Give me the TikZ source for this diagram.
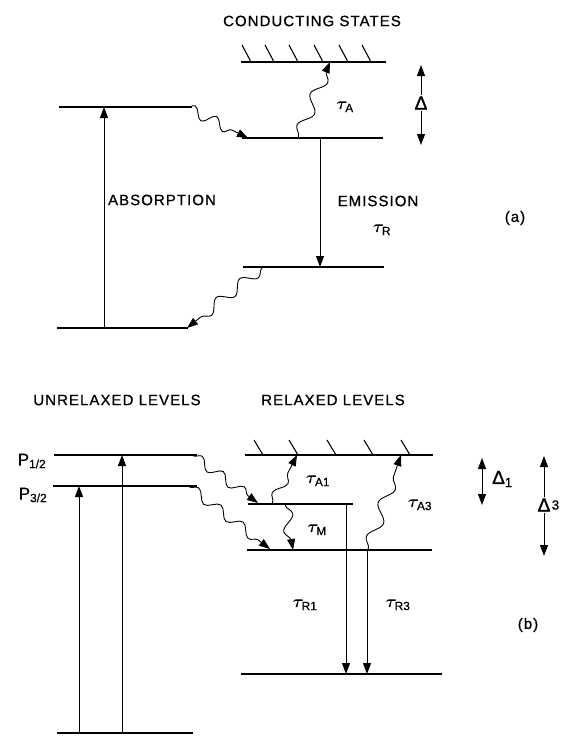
\documentclass[tikz,border=0pt]{standalone}
\usepackage{amsmath,bm}
\usepackage{fontspec}
\setmainfont{Liberation Sans}[FakeBold=0.6]
\setsansfont{Liberation Sans}[FakeBold=0.6]
\newfontfamily\lbl[LetterSpace=7,FakeBold=0.8]{Liberation Sans}
\newfontfamily\dfont[FakeBold=1.2]{Liberation Sans}
\usetikzlibrary{arrows.meta,decorations.pathmorphing}
\tikzset{
  tip/.tip={Triangle[length=11pt,width=8pt]},
  level/.style={line width=2.2pt},
  hatch/.style={line width=1.1pt},
  trans/.style={line width=1pt,-tip},
  wave/.style 2 args={line width=0.9pt,-tip,decorate,
     decoration={snake,amplitude=#1,segment length=#2,pre length=1pt,post length=9pt}},
  lab/.style={font=\lbl\fontsize{15}{18}\selectfont,inner sep=0pt},
  tau/.style={font=\fontsize{17}{20}\selectfont,inner sep=0pt},
  del/.style={font=\dfont\fontsize{19}{22}\selectfont,inner sep=1pt},
}
\newcommand{\tsub}[1]{$\bm{\tau}_{\textsf{#1}}$}
\begin{document}
\begin{tikzpicture}[x=1pt,y=-1pt]
\useasboundingbox (0,0) rectangle (560,736);
% ---------------- (a) ----------------
\node[lab] (cst) at (312,21) {CONDUCTING STATES};
\coordinate (csL) at (241,62); \coordinate (csR) at (386,62);
\draw[level] (csL) -- (csR);
\foreach \b [count=\i] in {251,274,298,323,348,371}{
  \coordinate (ha\i) at (\b-9,45); \coordinate (hb\i) at (\b,62);
  \draw[hatch] (ha\i) -- (hb\i);}
\coordinate (upL) at (59,107); \coordinate (upR) at (192,107);
\draw[level] (upL) -- (upR);
\coordinate (midL) at (242,138); \coordinate (midR) at (383,138);
\draw[level] (midL) -- (midR);
\coordinate (lowL) at (243,267); \coordinate (lowR) at (384,267);
\draw[level] (lowL) -- (lowR);
\coordinate (gndL) at (57,328); \coordinate (gndR) at (188,328);
\draw[level] (gndL) -- (gndR);
% absorption
\coordinate (abs0) at (104,328); \coordinate (abs1) at (104,107);
\draw[trans] (abs0) -- (abs1);
\node[lab] (absl) at (162,200) {ABSORPTION};
% relaxation wave
\coordinate (w1a) at (185,107); \coordinate (w1b) at (248,138);
\draw[wave={5.5pt}{24pt}] (w1a) -- (w1b);
% tau_A
\coordinate (tA0) at (298,138); \coordinate (tA1) at (330,62);
\draw[wave={6pt}{34pt}] (tA0) -- (tA1);
\node[tau] (tAl) at (345,107) {\tsub{A}};
% emission
\coordinate (em0) at (320,138); \coordinate (em1) at (320,267);
\draw[trans] (em0) -- (em1);
\node[lab] (eml) at (378,201) {EMISSION};
\node[tau] (tRl) at (382,230) {\tsub{R}};
% lower wave
\coordinate (w2a) at (263,267); \coordinate (w2b) at (187,328);
\draw[wave={5.5pt}{30pt}] (w2a) -- (w2b);
% Delta
\node[del] (D) at (421,103) {Δ};
\coordinate (Dt) at (421,65); \coordinate (Db) at (421,145);
\draw[trans] (D.north) -- (Dt);
\draw[trans] (D.south) -- (Db);
\node[lab] (pa) at (515,218) {(a)};
% ---------------- (b) ----------------
\node[lab] (unr) at (117,400) {UNRELAXED LEVELS};
\node[lab] (rel) at (333,400) {RELAXED LEVELS};
\coordinate (p1L) at (54,455); \coordinate (p1R) at (197,455);
\draw[level] (p1L) -- (p1R);
\node[lab,font=\fontsize{17}{20}\selectfont] (p1l) at (32,461) {P$_{\textsf{1/2}}$};
\coordinate (p3L) at (53,486); \coordinate (p3R) at (197,486);
\draw[level] (p3L) -- (p3R);
\node[lab,font=\fontsize{17}{20}\selectfont] (p3l) at (33,495) {P$_{\textsf{3/2}}$};
\coordinate (g2L) at (57,733); \coordinate (g2R) at (193,733);
\draw[level] (g2L) -- (g2R);
\coordinate (a30) at (79,733); \coordinate (a31) at (79,486);
\draw[trans] (a30) -- (a31);
\coordinate (a10) at (122,733); \coordinate (a11) at (122,455);
\draw[trans] (a10) -- (a11);
% relaxed conducting
\coordinate (rcL) at (245,455); \coordinate (rcR) at (433,455);
\draw[level] (rcL) -- (rcR);
\foreach \b [count=\i] in {263,298,336,373,410}{
  \coordinate (hc\i) at (\b-9,440); \coordinate (hd\i) at (\b,455);
  \draw[hatch] (hc\i) -- (hd\i);}
\coordinate (l1L) at (248,504); \coordinate (l1R) at (353,504);
\draw[level] (l1L) -- (l1R);
\coordinate (l3L) at (247,550); \coordinate (l3R) at (432,550);
\draw[level] (l3L) -- (l3R);
\coordinate (rbL) at (241,674); \coordinate (rbR) at (442,674);
\draw[level] (rbL) -- (rbR);
% relaxation waves
\coordinate (w3a) at (192,455); \coordinate (w3b) at (258,503);
\draw[wave={5pt}{26pt}] (w3a) -- (w3b);
\coordinate (w4a) at (188,486); \coordinate (w4b) at (270,549);
\draw[wave={5pt}{28pt}] (w4a) -- (w4b);
% tau waves
\coordinate (tA10) at (272,504); \coordinate (tA11) at (297,455);
\draw[wave={5pt}{30pt}] (tA10) -- (tA11);
\node[tau] (tA1l) at (318,481) {\tsub{A1}};
\coordinate (tM0) at (285,504); \coordinate (tM1) at (293,550);
\draw[wave={6pt}{32pt}] (tM0) -- (tM1);
\node[tau] (tMl) at (317,530) {\tsub{M}};
\coordinate (tA30) at (368,550); \coordinate (tA31) at (401,455);
\draw[wave={6pt}{36pt}] (tA30) -- (tA31);
\node[tau] (tA3l) at (420,505) {\tsub{A3}};
% emissions
\coordinate (r10) at (346,504); \coordinate (r11) at (346,674);
\draw[trans] (r10) -- (r11);
\coordinate (r30) at (367,550); \coordinate (r31) at (367,674);
\draw[trans] (r30) -- (r31);
\node[tau] (tR1l) at (305,605) {\tsub{R1}};
\node[tau] (tR3l) at (398,605) {\tsub{R3}};
% Deltas
\coordinate (D1t) at (482,458); \coordinate (D1b) at (482,505);
\draw[trans,tip-tip] (D1t) -- (D1b);
\node[del,anchor=west] (D1) at (491,479) {Δ$_{\textsf{1}}$};
\node[del] (D3) at (544,505) {Δ};
\node[del,anchor=west,inner sep=0pt] (D3s) at (D3.east) {$_{\textsf{3}}$};
\coordinate (D3t) at (544,456); \coordinate (D3b) at (544,556);
\draw[trans] (D3.north) -- (D3t);
\draw[trans] (D3.south) -- (D3b);
\node[lab] (pb) at (528,625) {(b)};
\end{tikzpicture}
\end{document}
